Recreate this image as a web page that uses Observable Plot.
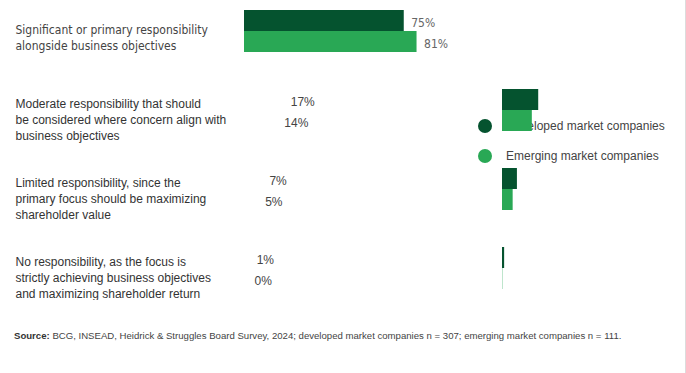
<!DOCTYPE html>
<html>
<head>
<meta charset="utf-8">
<script src="https://cdn.jsdelivr.net/npm/d3@7"></script>
<script src="https://cdn.jsdelivr.net/npm/@observablehq/plot@0.6"></script>
<style>
  body { margin: 0; background: #fff; font-family: "Liberation Sans", Arial, sans-serif; }
  #wrap { position: relative; width: 686px; height: 373px; overflow: hidden; }
  #border { position: absolute; left: 685px; top: 0; width: 1px; height: 373px; background: #dcdcdc; }
  #legend { position: absolute; left: 478px; top: 111px; z-index: 0; font-size: 12px; color: #444; }
  #legend .item { display: flex; align-items: center; height: 30px; }
  #legend .dot { width: 14px; height: 14px; border-radius: 50%; margin-right: 14px; }
  #chart { position: relative; z-index: 1; }
  #chart svg { background: transparent; }
  #caption { position: absolute; left: 14px; top: 330px; font-size: 9.6px; color: #444; white-space: nowrap; }
  #caption b { color: #333; }
</style>
</head>
<body>
<div id="wrap">
  <div id="legend"></div>
  <div id="chart"></div>
  <div id="caption"><b>Source:</b> BCG, INSEAD, Heidrick &amp; Struggles Board Survey, 2024; developed market companies n = 307; emerging market companies n = 111.</div>
  <div id="border"></div>
</div>
<script>
const categories = [
  "Significant or primary responsibility\nalongside business objectives",
  "Moderate responsibility that should\nbe considered where concern align with\nbusiness objectives",
  "Limited responsibility, since the\nprimary focus should be maximizing\nshareholder value",
  "No responsibility, as the focus is\nstrictly achieving business objectives\nand maximizing shareholder return"
];
const series = ["Developed market companies", "Emerging market companies"];
const developed = [75, 17, 7, 1];
const emerging = [81, 14, 5, 0];
const colors = ["#05532f", "#29a855"];

const data = categories.flatMap((c, i) => [
  {category: c, series: series[0], value: developed[i], idx: i},
  {category: c, series: series[1], value: emerging[i], idx: i}
]);
const first = data.filter(d => d.idx === 0);
const rest = data.filter(d => d.idx > 0);

const shift = 258; // the later groups are drawn further right

const labelFont = "Liberation Sans, Arial, sans-serif";
const firstFont = "DejaVu Sans Condensed, DejaVu Sans, sans-serif";

const chart = Plot.plot({
  width: 686,
  height: 300,
  marginLeft: 244,
  marginRight: 229,
  marginTop: 2,
  marginBottom: 4,
  style: {background: "transparent", fontFamily: labelFont},
  x: {domain: [0, 100], axis: null},
  fy: {domain: categories, paddingInner: 0.3, paddingOuter: 0, axis: null},
  y: {domain: series, paddingInner: 0, paddingOuter: 0.3, axis: null},
  color: {domain: series, range: colors},
  marks: [
    Plot.barX(first, {fy: "category", y: "series", x: "value", fill: "series"}),
    Plot.barX(rest.filter(d => d.value > 0), {fy: "category", y: "series", x: "value", fill: "series", dx: shift}),
    Plot.tickX(rest.filter(d => d.value === 0), {fy: "category", y: "series", x: "value", stroke: "series", strokeOpacity: 0.3, dx: shift}),
    Plot.text(first, {fy: "category", y: "series", x: "value", text: d => d.value + "%", dx: 7, dy: 2,
      textAnchor: "start", fill: "#666", fontSize: 12, fontFamily: firstFont}),
    Plot.text(rest, {fy: "category", y: "series", x: "value", text: d => d.value + "%", dx: 10, dy: 2,
      textAnchor: "start", fill: "#444", fontSize: 12, fontFamily: labelFont}),
    Plot.text(categories.slice(0, 1), {fy: d => d, text: d => d, frameAnchor: "left", dx: -229, dy: 6,
      textAnchor: "start", lineHeight: 1.33, fontSize: 12, fill: "#444", fontFamily: firstFont}),
    Plot.text(categories.slice(1), {fy: d => d, text: d => d, frameAnchor: "left", dx: -229, dy: 9,
      textAnchor: "start", lineHeight: 1.33, fontSize: 12, fill: "#333", fontFamily: labelFont})
  ]
});
document.getElementById("chart").appendChild(chart);

const legend = document.getElementById("legend");
series.forEach((s, i) => {
  const item = document.createElement("div");
  item.className = "item";
  const dot = document.createElement("span");
  dot.className = "dot";
  dot.style.background = colors[i];
  const label = document.createElement("span");
  label.textContent = s;
  item.appendChild(dot);
  item.appendChild(label);
  legend.appendChild(item);
});
</script>
</body>
</html>
